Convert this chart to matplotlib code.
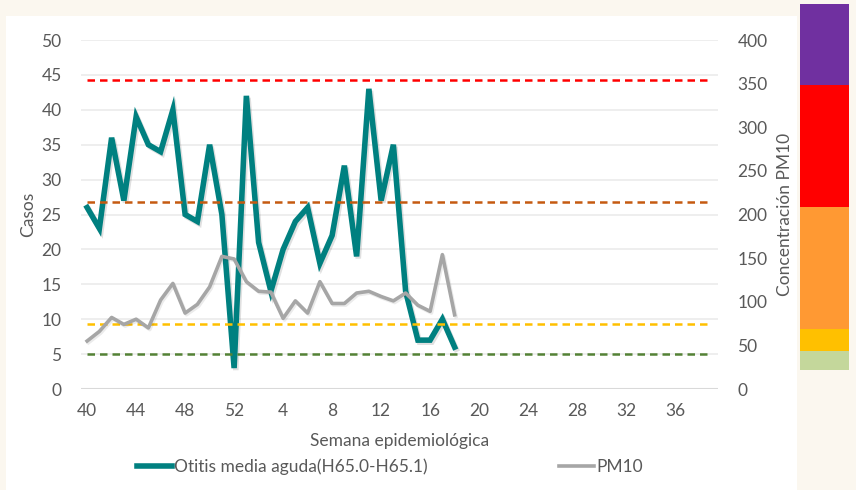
import matplotlib
matplotlib.use('Agg')
import matplotlib.pyplot as plt
from matplotlib.lines import Line2D
import matplotlib.patheffects as pe

# ---------------- data ----------------
weeks = list(range(40, 53)) + list(range(1, 40))
otitis = [26, 23, 36, 27, 39, 35, 34, 40, 25, 24, 35, 25, 3, 42, 21, 14, 20, 24,
          26, 18, 22, 32, 19, 43, 27, 35, 14, 7, 7, 10, 6]
pm10 = [55, 66, 82, 74, 80, 70, 102, 121, 87, 97, 117, 152, 149, 123, 112, 111,
        81, 101, 87, 123, 98, 98, 110, 112, 106, 101, 110, 96, 89, 154, 85]
thresholds = [354, 214, 75, 40]
threshold_colors = ['#ff0000', '#c55a11', '#ffc000', '#548235']
left_ticks = [0, 5, 10, 15, 20, 25, 30, 35, 40, 45, 50]
right_ticks = [0, 50, 100, 150, 200, 250, 300, 350, 400]
series_names = ['Otitis media aguda(H65.0-H65.1)', 'PM10']
# colour scale bands (top to bottom)
band_colors = ['#7030a0', '#ff0000', '#ff9933', '#ffc000', '#c4d79b']
band_edges_px = [4, 85, 207, 329, 351, 370]

W, H = 856, 490
plt.rcParams['font.family'] = ['Lato', 'DejaVu Sans']
txt = '#595959'

fig = plt.figure(figsize=(W / 100, H / 100), dpi=100)
fig.patch.set_facecolor('#fbf7ef')
# white chart area
bg = fig.add_axes([6 / W, 0, (797 - 6) / W, (H - 16) / H])
bg.set_facecolor('white')
bg.set_xticks([]); bg.set_yticks([])
for s in bg.spines.values():
    s.set_visible(False)
bg.set_zorder(-5)

x0, x1, yt, yb = 81, 718, 40, 389
ax = fig.add_axes([x0 / W, 1 - yb / H, (x1 - x0) / W, (yb - yt) / H])
ax.set_facecolor('none')
ax2 = ax.twinx()

n = len(weeks)
xs = list(range(len(otitis)))
ax.set_xlim(-0.5, n - 0.5)
ax.set_ylim(0, 50)
ax2.set_ylim(0, 400)

for v in left_ticks[1:]:
    ax.axhline(v, color='#ebebeb', lw=1.2, zorder=0)
ax.axhline(0, color='#d9d9d9', lw=1.5, zorder=0)

ax.plot(xs, otitis, color='#008080', lw=4, solid_joinstyle='miter', zorder=3,
        path_effects=[pe.SimpleLineShadow(offset=(1.2, -1.5), alpha=0.12), pe.Normal()])

for v, c in zip(thresholds, threshold_colors):
    ax2.plot(range(n), [v] * n, color=c, lw=1.8, ls=(0, (3, 2)), zorder=2)
ax2.plot(xs, pm10, color='#a6a6a6', lw=2.6, zorder=4,
         path_effects=[pe.SimpleLineShadow(offset=(1.0, -1.2), alpha=0.08), pe.Normal()])

ax.set_xticks(range(0, n, 4))
ax.set_xticklabels([str(weeks[i]) for i in range(0, n, 4)])
ax.set_yticks(left_ticks)
ax2.set_yticks(right_ticks)
for a in (ax, ax2):
    for s in a.spines.values():
        s.set_visible(False)
ax.tick_params(axis='both', length=0, labelsize=12.5, labelcolor=txt)
ax.tick_params(axis='y', pad=14)
ax.tick_params(axis='x', pad=10)
ax2.tick_params(axis='y', length=0, labelsize=12.5, labelcolor=txt, pad=14)

ax.set_ylabel('Casos', fontsize=12.5, color=txt, labelpad=4)
ax2.set_ylabel('Concentración PM10', fontsize=12.5, color=txt, labelpad=7)
ax.set_xlabel('Semana epidemiológica', fontsize=12.5, color=txt, labelpad=10)

handles = [Line2D([], [], color='#008080', lw=4), Line2D([], [], color='#a6a6a6', lw=2.6)]
fig.legend(handles, series_names, ncol=2, loc='center', bbox_to_anchor=(390 / W, 1 - 467 / H),
           frameon=False, fontsize=12.5, handlelength=2.0, handletextpad=0.1,
           columnspacing=7.6, labelcolor=txt)

# colour scale bar
axc = fig.add_axes([800 / W, 1 - 370 / H, 49 / W, (370 - 4) / H])
axc.set_xlim(0, 1)
axc.set_ylim(band_edges_px[-1], band_edges_px[0])
tops = band_edges_px[:-1]
heights = [b - t for t, b in zip(band_edges_px[:-1], band_edges_px[1:])]
axc.bar([0.5] * len(tops), heights, bottom=tops, width=1, color=band_colors)
axc.axis('off')

fig.savefig('out.png', dpi=100, facecolor=fig.get_facecolor())
